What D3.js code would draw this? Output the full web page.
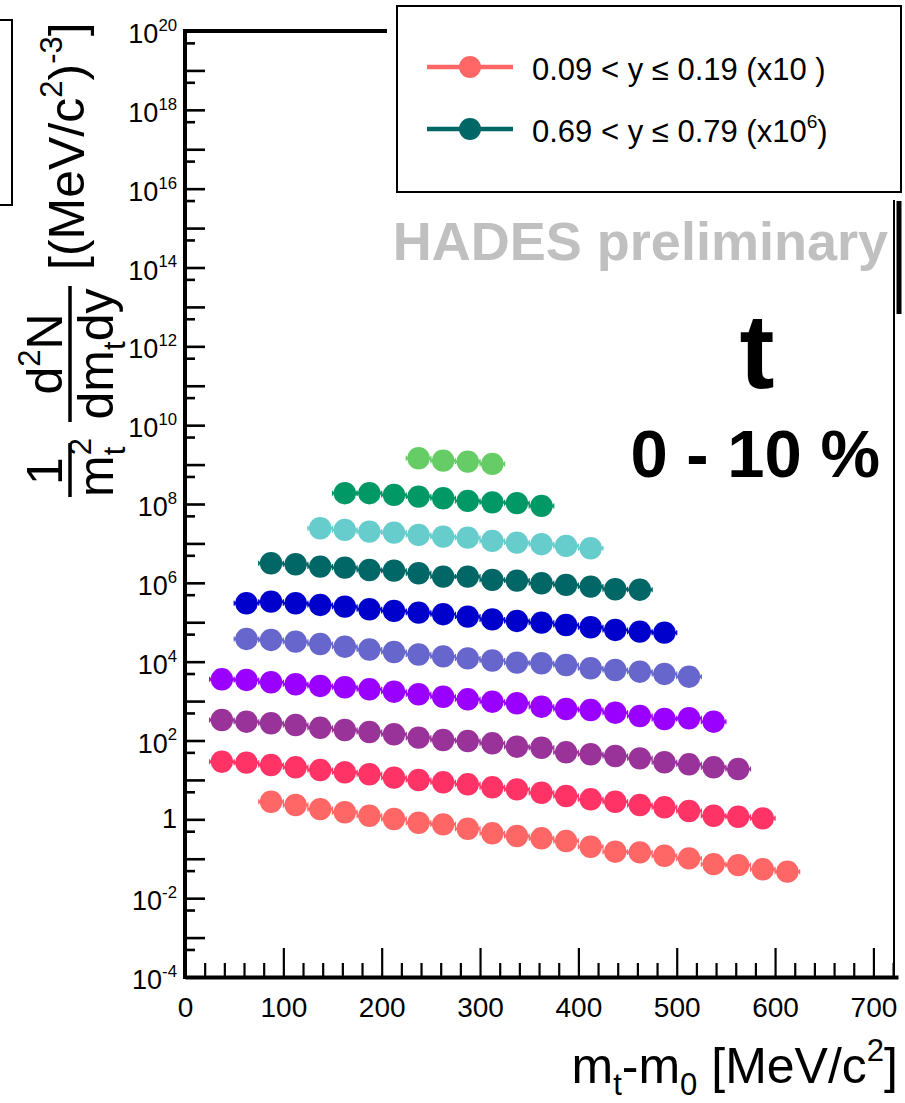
<!DOCTYPE html>
<html>
<head>
<meta charset="utf-8">
<script src="https://cdn.jsdelivr.net/npm/d3@7"></script>
<style>
  body { margin: 0; background: #fff; }
  svg { display: block; font-family: "Liberation Sans", Arial, Helvetica, sans-serif; }
</style>
</head>
<body>
<svg id="chart" width="905" height="1103"></svg>
<script>
// m_t - m_0 bin centres [MeV/c^2]
const binCenters = [37.5, 62.5, 87.5, 112.5, 137.5, 162.5, 187.5, 212.5, 237.5, 262.5, 287.5,
  312.5, 337.5, 362.5, 387.5, 412.5, 437.5, 462.5, 487.5, 512.5, 537.5, 562.5, 587.5, 612.5];
const binHalfWidth = 12.5;

// one spectrum per rapidity bin, lowest bin first (values before scaling)
const ybin1 = [2.80, 2.31, 1.82, 1.51, 1.23, 1.02, 0.82, 0.746, 0.577, 0.442, 0.377, 0.330, 0.281,
  0.202, 0.151, 0.145, 0.119, 0.102, 0.073, 0.069, 0.054, 0.047];
const ybin2 = [2.90, 2.74, 2.39, 2.09, 1.78, 1.56, 1.39, 1.14, 0.993, 0.869, 0.773, 0.649, 0.577,
  0.473, 0.390, 0.322, 0.280, 0.231, 0.202, 0.163, 0.123, 0.116, 0.106];
const ybin3 = [3.31, 3.00, 2.74, 2.47, 2.10, 1.85, 1.64, 1.44, 1.18, 1.03, 0.970, 0.849, 0.697,
  0.656, 0.502, 0.447, 0.405, 0.353, 0.280, 0.249, 0.209, 0.189];
const ybin4 = [3.57, 3.44, 3.00, 2.67, 2.42, 2.24, 1.99, 1.73, 1.49, 1.29, 1.11, 0.966, 0.879,
  0.721, 0.630, 0.594, 0.508, 0.419, 0.352, 0.366, 0.300];
const ybin5 = [3.77, 3.56, 3.22, 2.81, 2.40, 2.04, 1.76, 1.52, 1.36, 1.21, 1.07, 0.944, 0.910,
  0.824, 0.679, 0.615, 0.557, 0.488, 0.416];
const ybin6 = [3.03, 3.33, 3.03, 2.75, 2.49, 2.14, 1.94, 1.75, 1.60, 1.39, 1.18, 1.08, 0.977,
  0.853, 0.746, 0.638, 0.577, 0.545];
const ybin7 = [3.14, 2.96, 2.58, 2.43, 2.12, 2.04, 1.75, 1.44, 1.44, 1.19, 1.14, 0.977, 0.885,
  0.802, 0.689, 0.670];
const ybin8 = [2.43, 2.20, 1.99, 1.88, 1.64, 1.49, 1.40, 1.16, 1.05, 0.955, 0.865, 0.755];
const ybin9 = [1.88, 1.88, 1.70, 1.54, 1.40, 1.20, 1.10, 1.05, 0.895];
const ybin10 = [1.45, 1.26, 1.19, 1.04];

const seriesValues = [ybin1, ybin2, ybin3, ybin4, ybin5, ybin6, ybin7, ybin8, ybin9, ybin10];
const seriesFirstBin = [2, 0, 0, 0, 1, 1, 2, 4, 5, 8];
const seriesScale = [1, 1e1, 1e2, 1e3, 1e4, 1e5, 1e6, 1e7, 1e8, 1e9];
const seriesColors = ["#ff6666", "#ff3366", "#993399", "#9900ff", "#6666cc",
  "#0000cc", "#006666", "#66cccc", "#009966", "#66cc66"];

const legendSeries = [0, 6];
const legendLabels = [["0.09 < y ≤ 0.19 (x10", null, " )"], ["0.69 < y ≤ 0.79 (x10", "6", ")"]];

const xMajorTicks = [0, 100, 200, 300, 400, 500, 600, 700];
const xMinorTicks = [20, 40, 60, 80, 120, 140, 160, 180, 220, 240, 260, 280, 320, 340, 360, 380,
  420, 440, 460, 480, 520, 540, 560, 580, 620, 640, 660, 680, 720];
const yDecadeExps = [-4, -3, -2, -1, 0, 1, 2, 3, 4, 5, 6, 7, 8, 9, 10, 11, 12, 13, 14, 15, 16, 17, 18, 19, 20];
const yLabelExps = [-4, -2, 0, 2, 4, 6, 8, 10, 12, 14, 16, 18, 20];

const svg = d3.select("#chart");

const x = d3.scaleLinear().domain([0, 725]).range([185, 898]);
const y = d3.scaleLog().domain([1e-4, 1e20]).range([977, 31]);

// text with ROOT-like sub/superscripts: parts are strings or [str, "sub"|"sup", dx]
function rich(sel, parts, size) {
  let cur = 0;
  parts.forEach((p) => {
    const [str, kind, dx] = typeof p === "string" ? [p, "n", 0] : p;
    const off = kind === "sup" ? -0.45 * size : kind === "sub" ? 0.24 * size : 0;
    const t = sel.append("tspan")
      .attr("dy", off - cur)
      .attr("font-size", kind === "n" ? size : 0.62 * size)
      .text(str);
    if (dx) t.attr("dx", dx);
    cur = off;
  });
}

// Axes
const xAxisMajor = d3.axisBottom(x).tickValues(xMajorTicks).tickSize(-29).tickSizeOuter(0).tickPadding(20);
const xAxisMinor = d3.axisBottom(x).tickValues(xMinorTicks).tickSize(-14).tickSizeOuter(0).tickFormat(() => "");

const gxMinor = svg.append("g").attr("transform", "translate(0,977)").call(xAxisMinor);
const gx = svg.append("g").attr("transform", "translate(0,977)").call(xAxisMajor);
gxMinor.select(".domain").remove();
gx.select(".domain").attr("stroke-width", 4);
svg.selectAll(".tick line").attr("stroke-width", 2.2);
gx.selectAll(".tick text").attr("font-size", 28).attr("fill", "#000")
  .attr("font-family", "'Liberation Sans', Arial, sans-serif");

const yAxisMajor = d3.axisLeft(y).tickValues(yDecadeExps.map((e) => Math.pow(10, e)))
  .tickSize(-20).tickSizeOuter(0).tickFormat(() => "");
const yAxisMinor = d3.axisLeft(y).tickValues(yDecadeExps.slice(0, -1).map((e) => 5 * Math.pow(10, e)))
  .tickSize(-10).tickSizeOuter(0).tickFormat(() => "");

const gyMinor = svg.append("g").attr("transform", "translate(185,0)").call(yAxisMinor);
const gy = svg.append("g").attr("transform", "translate(185,0)").call(yAxisMajor);
gyMinor.select(".domain").remove();
gy.select(".domain").attr("stroke-width", 4).attr("d", "M0,29V979");
gy.selectAll(".tick line").attr("stroke-width", 2.6);
gyMinor.selectAll(".tick line").attr("stroke-width", 2.6);

// y tick labels 10^n
yLabelExps.forEach((e) => {
  const ty = y(Math.pow(10, e));
  const t = svg.append("text").attr("text-anchor", "end").attr("x", 177);
  if (e === 0) {
    t.attr("y", ty + 9).attr("font-size", 27).text("1");
  } else {
    t.attr("y", ty + 12);
    rich(t, ["10", [String(e), "sup"]], 27);
  }
});

// frame pieces
svg.append("line").attr("x1", 183).attr("x2", 387).attr("y1", 31).attr("y2", 31)
  .attr("stroke", "#000").attr("stroke-width", 4);
svg.append("line").attr("x1", 894).attr("x2", 894).attr("y1", 200).attr("y2", 978)
  .attr("stroke", "#000").attr("stroke-width", 2);
svg.append("line").attr("x1", 899).attr("x2", 899).attr("y1", 201).attr("y2", 314)
  .attr("stroke", "#000").attr("stroke-width", 5);
svg.append("path").attr("d", "M0,20H12V205H0").attr("fill", "none")
  .attr("stroke", "#000").attr("stroke-width", 2);

// data
seriesValues.forEach((vals, i) => {
  const pts = vals.map((v, k) => ({ mt: binCenters[seriesFirstBin[i] + k], v: v * seriesScale[i] }));
  const g = svg.append("g").attr("fill", seriesColors[i]).attr("stroke", seriesColors[i]);
  g.selectAll(".err").data(pts).enter().append("line")
    .attr("class", "err")
    .attr("x1", (d) => x(d.mt - binHalfWidth))
    .attr("x2", (d) => x(d.mt + binHalfWidth))
    .attr("y1", (d) => y(d.v))
    .attr("y2", (d) => y(d.v))
    .attr("stroke-width", 2.5);
  g.selectAll(".cap").data(pts).enter().append("path")
    .attr("class", "cap")
    .attr("d", (d) => `M${x(d.mt - binHalfWidth)},${y(d.v) - 2.5}v5M${x(d.mt + binHalfWidth)},${y(d.v) - 2.5}v5`)
    .attr("stroke-width", 1.2);
  g.selectAll("circle").data(pts).enter().append("circle")
    .attr("cx", (d) => x(d.mt))
    .attr("cy", (d) => y(d.v))
    .attr("r", 11.2)
    .attr("stroke", "none");
});

// legend
svg.append("rect").attr("x", 397).attr("y", 6).attr("width", 504).attr("height", 186)
  .attr("fill", "#fff").attr("stroke", "#000").attr("stroke-width", 2);
legendSeries.forEach((si, j) => {
  const ly = 67 + j * 62;
  svg.append("line").attr("x1", 427).attr("x2", 513).attr("y1", ly).attr("y2", ly)
    .attr("stroke", seriesColors[si]).attr("stroke-width", 4.5);
  svg.append("circle").attr("cx", 470).attr("cy", ly).attr("r", 11).attr("fill", seriesColors[si]);
  const [pre, sup, post] = legendLabels[j];
  const t = svg.append("text").attr("x", 532).attr("y", ly + 13);
  const parts = [pre];
  if (sup) parts.push([sup, "sup"]);
  parts.push(post);
  rich(t, parts, 31);
});

// annotations
svg.append("text").attr("x", 888).attr("y", 260).attr("text-anchor", "end")
  .attr("font-size", 54).attr("font-weight", "bold").attr("fill", "#c0c0c0")
  .text("HADES preliminary");
svg.append("text").attr("x", 757).attr("y", 388).attr("text-anchor", "middle")
  .attr("font-size", 105).attr("font-weight", "bold").text("t");
svg.append("text").attr("x", 880).attr("y", 477).attr("text-anchor", "end")
  .attr("font-size", 67).attr("font-weight", "bold").text("0 - 10 %");

// x title
const xt = svg.append("text").attr("x", 898).attr("y", 1083).attr("text-anchor", "end");
rich(xt, ["m", ["t", "sub"], "-m", ["0", "sub"], " [MeV/c", ["2", "sup"], "]"], 50);

// y title (rotated)
const yt = svg.append("g").attr("transform", "translate(70,500) rotate(-90)");
const fs = 50;
yt.append("text").attr("x", 29).attr("y", -8).attr("text-anchor", "middle").attr("font-size", fs).text("1");
yt.append("line").attr("x1", 3).attr("x2", 57).attr("y1", 0).attr("y2", 0).attr("stroke", "#000").attr("stroke-width", 3.5);
const den1 = yt.append("text").attr("x", 3).attr("y", 43);
rich(den1, ["m", ["2", "sup"], ["t", "sub", -17.2]], fs);
const num2 = yt.append("text").attr("x", 146).attr("y", -8).attr("text-anchor", "middle");
rich(num2, ["d", ["2", "sup"], "N"], fs);
yt.append("line").attr("x1", 78).attr("x2", 214).attr("y1", 0).attr("y2", 0).attr("stroke", "#000").attr("stroke-width", 3.5);
const den2 = yt.append("text").attr("x", 146).attr("y", 43).attr("text-anchor", "middle");
rich(den2, ["dm", ["t", "sub"], "dy"], fs);
const unit = yt.append("text").attr("x", 230).attr("y", 14);
rich(unit, ["[(MeV/c", ["2", "sup"], ")", ["-3", "sup"], "]"], 50);
</script>
</body>
</html>
